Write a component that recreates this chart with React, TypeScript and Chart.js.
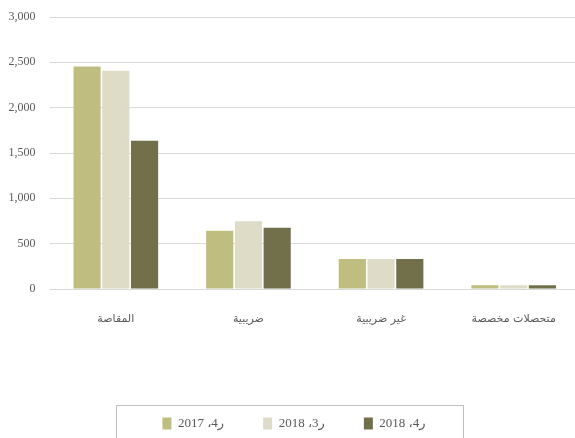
import React, { useEffect, useRef } from "react";
import { Chart, registerables } from "chart.js";

Chart.register(...registerables);

const categories = ["المقاصة", "ضريبية", "غير ضريبية", "متحصلات مخصصة"];
const seriesLabels = ["ر4، 2017", "ر3، 2018", "ر4، 2018"];
const q4_2017 = [2455, 642, 332, 40];
const q3_2018 = [2406, 746, 332, 40];
const q4_2018 = [1636, 676, 332, 40];
const seriesColors = ["#BFBD80", "#DEDCC7", "#72704B"];
const yTicks = [0, 500, 1000, 1500, 2000, 2500, 3000];

const legendBoxPlugin = {
  id: "legendBox",
  afterDraw(chart: any) {
    const legend = chart.legend;
    if (!legend || !legend.legendHitBoxes || !legend.legendHitBoxes.length) return;
    const boxes = legend.legendHitBoxes;
    let minX = Infinity, maxX = -Infinity, minY = Infinity;
    boxes.forEach((b: any) => {
      minX = Math.min(minX, b.left);
      maxX = Math.max(maxX, b.left + b.width);
      minY = Math.min(minY, b.top);
    });
    const ctx = chart.ctx;
    ctx.save();
    ctx.strokeStyle = "#BFBFBF";
    ctx.lineWidth = 1;
    const left = Math.round(minX - 46) + 0.5;
    const right = Math.round(maxX + 37) + 0.5;
    const top = Math.round(minY - 12) + 0.5;
    ctx.strokeRect(left, top, right - left, 60);
    ctx.restore();
  },
};

export default function App() {
  const ref = useRef<HTMLCanvasElement>(null);
  useEffect(() => {
    if (!ref.current) return;
    const serif = "'Liberation Serif', 'Times New Roman', 'DejaVu Sans', serif";
    const chart = new Chart(ref.current, {
      type: "bar",
      data: {
        labels: categories,
        datasets: [q4_2017, q3_2018, q4_2018].map((d, i) => ({
          label: seriesLabels[i],
          data: d,
          backgroundColor: seriesColors[i],
          borderWidth: 0,
          barPercentage: 0.945,
          categoryPercentage: 0.65,
        })),
      },
      options: {
        responsive: false,
        animation: false,
        devicePixelRatio: 1,
        layout: { padding: { top: 17, right: 5, left: 8, bottom: 0 } },
        plugins: {
          tooltip: { enabled: false },
          legend: {
            position: "bottom",
            labels: {
              boxWidth: 9,
              boxHeight: 12,
              padding: 39,
              color: "#595959",
              font: { family: serif, size: 13 },
            },
          },
        },
        scales: {
          x: {
            grid: { display: false, drawTicks: false },
            border: { display: false },
            ticks: {
              color: "#595959",
              padding: 24,
              font: { family: "'DejaVu Sans', sans-serif", size: 11 },
              maxRotation: 0,
              autoSkip: false,
            },
            afterFit: (scale: any) => {
              scale.height = 89;
            },
          },
          y: {
            min: 0,
            max: 3000,
            afterBuildTicks: (scale: any) => {
              scale.ticks = yTicks.map((v) => ({ value: v }));
            },
            grid: { color: "#D9D9D9", drawTicks: false, lineWidth: 1 },
            border: { display: false },
            ticks: {
              color: "#595959",
              padding: 14,
              font: { family: serif, size: 12 },
              callback: (v: any) => Number(v).toLocaleString("en-US"),
            },
            afterFit: (scale: any) => {
              scale.width = 41.5;
              scale.paddingTop = 0;
              scale.paddingBottom = 0;
            },
          },
        },
      },
      plugins: [legendBoxPlugin],
    });
    return () => chart.destroy();
  }, []);

  return (
    <div
      style={{
        position: "fixed",
        left: 0,
        top: 0,
        width: 575,
        height: 438,
        overflow: "hidden",
        background: "#fff",
      }}
    >
      <canvas ref={ref} width={585} height={440} style={{ display: "block" }} />
    </div>
  );
}
